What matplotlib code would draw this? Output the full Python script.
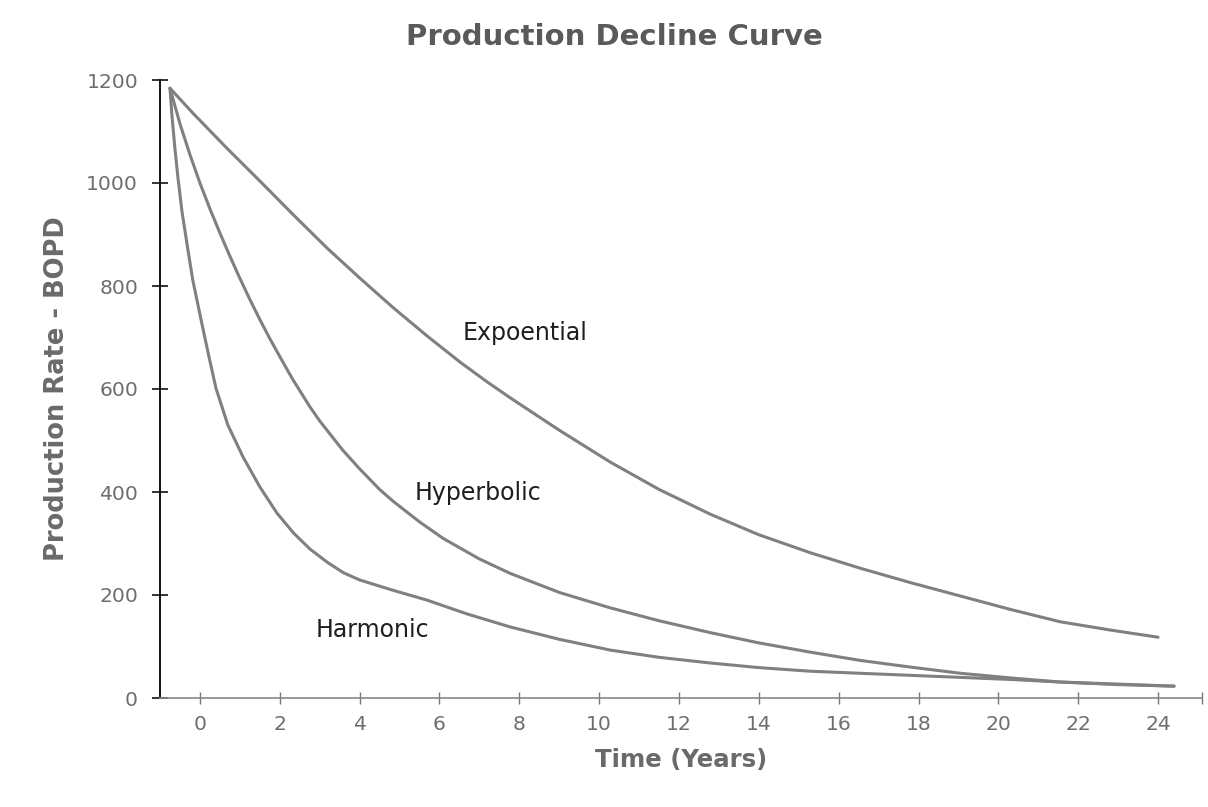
import matplotlib
matplotlib.use("Agg")
import matplotlib.pyplot as plt
from matplotlib.ticker import FixedLocator

plt.rcParams['font.family'] = ['DejaVu Sans']

# Data
exp_t = [-0.75, -0.18, 0.67, 1.5, 2.33, 3.18, 4.01, 4.84, 5.69, 6.52, 7.19, 7.77,
         9.0, 10.28, 11.5, 12.78, 14.0, 15.29, 16.54, 17.8, 19.05, 20.3, 21.55,
         22.8, 24.0]
exp_q = [1184, 1136, 1068, 1004, 939, 874, 815, 758, 703, 652, 614, 583,
         520, 458, 405, 357, 317, 282, 252, 224, 198, 172, 148,
         132, 118]

hyp_t = [-0.75, -0.5, -0.25, 0.0, 0.25, 0.5, 0.75, 1.0, 1.25, 1.5, 1.75, 2.0,
         2.33, 2.75, 3.0, 3.58, 4.0, 4.5, 4.84, 5.5, 6.09, 7.0, 7.77, 9.0,
         10.28, 11.5, 12.78, 14.0, 15.29, 16.54, 17.8, 19.05, 20.3, 21.55,
         23.0, 24.4]
hyp_q = [1184, 1115, 1055, 1000, 950, 903, 858, 815, 774, 735, 698, 663,
         618, 566, 538, 481, 445, 405, 382, 342, 310, 270, 242, 205,
         175, 150, 127, 107, 89, 73, 60, 48, 39, 31,
         26, 23]

har_t = [-0.75, -0.7, -0.63, -0.55, -0.45, -0.3, -0.18, 0.0, 0.2, 0.4, 0.7,
         1.08, 1.5, 1.93, 2.35, 2.76, 3.2, 3.6, 4.01, 4.8, 5.69, 6.7, 7.77,
         9.0, 10.28, 11.5, 12.78, 14.0, 15.29, 16.54, 17.8, 19.05, 20.3,
         21.55, 23.0, 24.4]
har_q = [1184, 1130, 1070, 1010, 945, 870, 812, 745, 672, 602, 530,
         468, 410, 359, 320, 289, 263, 243, 229, 210, 190, 163, 138,
         114, 93, 79, 68, 59, 52, 48, 44, 40, 36,
         31, 27, 23]

curve_labels = ["Expoential", "Hyperbolic", "Harmonic"]
label_pos = [(6.59, 709), (5.39, 398), (2.91, 132)]

x_ticks = list(range(0, 25, 2))
y_ticks = list(range(0, 1201, 200))

fig = plt.figure(figsize=(12.08, 8.07), dpi=100)
ax = fig.add_axes([160 / 1208, 1 - 698 / 807, 1042 / 1208, 618 / 807])

line_kw = dict(color='#808080', lw=2.2, solid_capstyle='round', solid_joinstyle='round')
ax.plot(exp_t, exp_q, **line_kw)
ax.plot(hyp_t, hyp_q, **line_kw)
ax.plot(har_t, har_q, **line_kw)

for txt, (x, y) in zip(curve_labels, label_pos):
    ax.text(x, y, txt, fontsize=17, color='#1e1e1e', ha='left', va='center')

ax.set_xlim(-1, 25.1)
ax.set_ylim(0, 1200)
ax.set_xticks(x_ticks)
ax.set_yticks(y_ticks)
ax.xaxis.set_minor_locator(FixedLocator([25.1]))

for s in ['top', 'right']:
    ax.spines[s].set_visible(False)
ax.spines['left'].set_color('#111111')
ax.spines['left'].set_linewidth(1.4)
ax.spines['bottom'].set_color('#888888')
ax.spines['bottom'].set_linewidth(1.2)

ax.tick_params(axis='y', direction='inout', length=11.5, width=1.2, color='#111111',
               labelsize=14.7, labelcolor='#6e6e6e', pad=10)
ax.tick_params(axis='x', which='both', direction='inout', length=8.5, width=1.0,
               color='#777777', labelsize=14.7, labelcolor='#6e6e6e', pad=8)

fig.text(614 / 1208, 1 - 37 / 807, "Production Decline Curve", fontsize=21,
         fontweight='bold', color='#5a5a5a', ha='center', va='center')
fig.text(57 / 1208, 1 - 389 / 807, "Production Rate - BOPD", fontsize=18.5,
         fontweight='bold', color='#6a6a6a', ha='center', va='center', rotation=90)
fig.text(681 / 1208, 1 - 760 / 807, "Time (Years)", fontsize=17.6,
         fontweight='bold', color='#6a6a6a', ha='center', va='center')

fig.savefig("out.png", dpi=100, facecolor='white')
